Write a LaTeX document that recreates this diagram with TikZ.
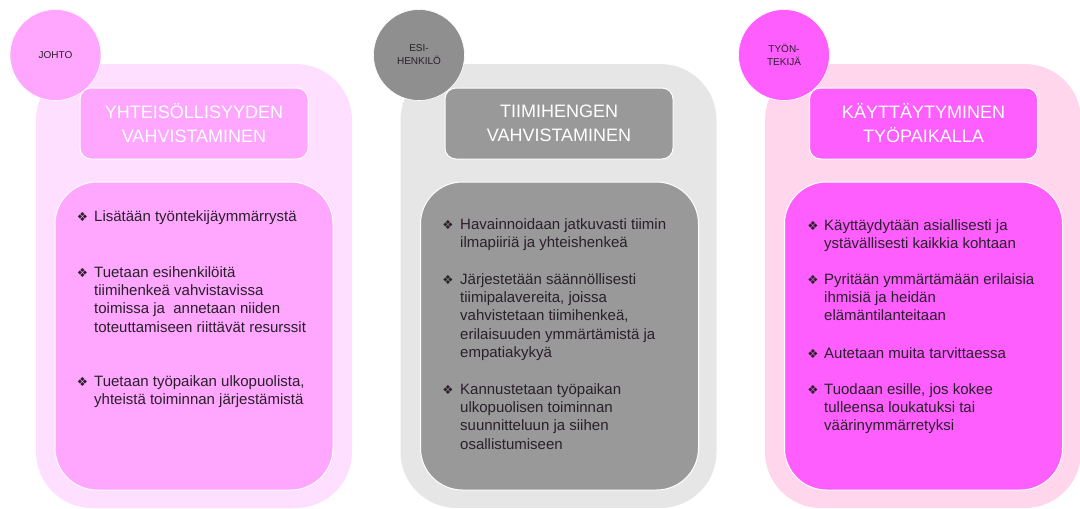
\documentclass[tikz,border=0pt]{standalone}
\usepackage{fontspec}
\setmainfont{Liberation Sans}
\newfontfamily\symfont{DejaVu Sans}

% colour sets for the three columns
\definecolor{jOuter}{HTML}{FFDFFF}
\definecolor{jFill}{HTML}{FFA6FF}
\definecolor{eOuter}{HTML}{E6E6E6}
\definecolor{eFill}{HTML}{999999}
\definecolor{eCircle}{HTML}{8F8F8F}
\definecolor{tOuter}{HTML}{FFD6EC}
\definecolor{tFill}{HTML}{FF5EFF}
\definecolor{bodyText}{HTML}{2A202A}

% a top-aligned block of lines, so the node's base is the first baseline
\newcommand{\textlines}[1]{\parbox[t]{236pt}{\raggedright #1}}

\tikzset{
  panel/.style={rounded corners=56pt, minimum width=316pt, minimum height=444pt, inner sep=0pt},
  titlebox/.style={draw=white, line width=1pt, rounded corners=11pt,
    minimum width=228pt, minimum height=71pt, inner sep=0pt,
    text=white, align=center, font=\fontsize{18}{24}\selectfont},
  listbox/.style={draw=white, line width=1pt, rounded corners=42pt,
    minimum width=278pt, minimum height=308pt, inner sep=0pt},
  rolecircle/.style={circle, draw=white, line width=0.6pt, minimum size=91pt,
    inner sep=0pt, align=center, text=bodyText,
    font=\fontsize{10}{13}\selectfont},
  item/.style={anchor=base west, inner sep=0pt, text=bodyText,
    font=\fontsize{15}{18.2}\selectfont},
  bullet/.style={anchor=base, inner sep=0pt, text=bodyText,
    font=\symfont\fontsize{12.5}{14}\selectfont}
}

\begin{document}
\begin{tikzpicture}[x=1pt, y=-1pt]
\useasboundingbox (0,0) rectangle (1080,509);

% ---------- column 1: JOHTO ----------
\node[panel, fill=jOuter] (p1) at (194,286) {};
\node[titlebox, fill=jFill] (t1) at (194,123.5) {YHTEISÖLLISYYDEN\\VAHVISTAMINEN};
\node[listbox, fill=jFill] (l1) at (194,336) {};
\node[rolecircle, fill=jFill] (c1) at (55.5,55) {JOHTO};

\node[bullet] (b11) at (82.5,221) {❖};
\node[item] (i11) at (94,221) {\textlines{Lisätään työntekijäymmärrystä}};
\node[bullet] (b12) at (82.5,277.5) {❖};
\node[item] (i12) at (94,277.5) {\textlines{Tuetaan esihenkilöitä\\tiimihenkeä vahvistavissa\\toimissa ja~ annetaan niiden\\toteuttamiseen riittävät resurssit}};
\node[bullet] (b13) at (82.5,386) {❖};
\node[item] (i13) at (94,386) {\textlines{Tuetaan työpaikan ulkopuolista,\\yhteistä toiminnan järjestämistä}};

% ---------- column 2: ESIHENKILÖ ----------
\node[panel, fill=eOuter] (p2) at (558.5,286) {};
\node[titlebox, fill=eFill] (t2) at (559,123.5) {TIIMIHENGEN\\VAHVISTAMINEN};
\node[listbox, fill=eFill] (l2) at (559.5,336) {};
\node[rolecircle, fill=eCircle] (c2) at (419,55) {ESI-\\HENKILÖ};

\node[bullet] (b21) at (448,229.5) {❖};
\node[item] (i21) at (460,229.5) {\textlines{Havainnoidaan jatkuvasti tiimin\\ilmapiiriä ja yhteishenkeä}};
\node[bullet] (b22) at (448,284.5) {❖};
\node[item] (i22) at (460,284.5) {\textlines{Järjestetään säännöllisesti\\tiimipalavereita, joissa\\vahvistetaan tiimihenkeä,\\erilaisuuden ymmärtämistä ja\\empatiakykyä}};
\node[bullet] (b23) at (448,394.5) {❖};
\node[item] (i23) at (460,394.5) {\textlines{Kannustetaan työpaikan\\ulkopuolisen toiminnan\\suunnitteluun ja siihen\\osallistumiseen}};

% ---------- column 3: TYÖNTEKIJÄ ----------
\node[panel, fill=tOuter] (p3) at (923,286) {};
\node[titlebox, fill=tFill] (t3) at (923.5,123.5) {KÄYTTÄYTYMINEN\\TYÖPAIKALLA};
\node[listbox, fill=tFill] (l3) at (923.5,336) {};
\node[rolecircle, fill=tFill] (c3) at (784,55) {TYÖN-\\TEKIJÄ};

\node[bullet] (b31) at (813,230) {❖};
\node[item] (i31) at (824,230) {\textlines{Käyttäydytään asiallisesti ja\\ystävällisesti kaikkia kohtaan}};
\node[bullet] (b32) at (813,284.5) {❖};
\node[item] (i32) at (824,284.5) {\textlines{Pyritään ymmärtämään erilaisia\\ihmisiä ja heidän\\elämäntilanteitaan}};
\node[bullet] (b33) at (813,358) {❖};
\node[item] (i33) at (824,358) {\textlines{Autetaan muita tarvittaessa}};
\node[bullet] (b34) at (813,394.5) {❖};
\node[item] (i34) at (824,394.5) {\textlines{Tuodaan esille, jos kokee\\tulleensa loukatuksi tai\\väärinymmärretyksi}};
\end{tikzpicture}
\end{document}
